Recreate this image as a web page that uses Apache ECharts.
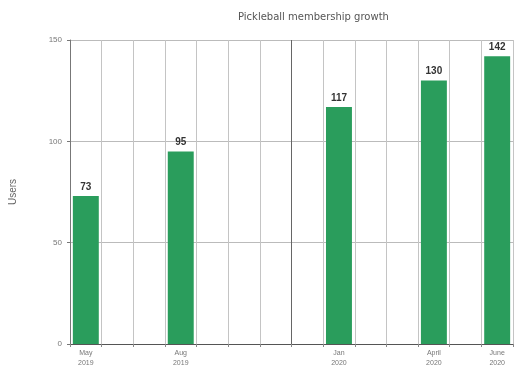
<!DOCTYPE html>
<html><head><meta charset="utf-8">
<script src="https://cdn.jsdelivr.net/npm/echarts@6/dist/echarts.min.js"></script>
<style>html,body{margin:0;padding:0;background:#fff}#c{width:516px;height:369px}</style>
</head><body><div id="c"></div>
<script>
const titleText = "Pickleball membership growth";
const yAxisName = "Users";
const months = ["May\n2019","Jun\n2019","Jul\n2019","Aug\n2019","Sep\n2019","Oct\n2019","Nov\n2019","Dec\n2019","Jan\n2020","Feb\n2020","Mar\n2020","April\n2020","May\n2020","June\n2020"];
const labeledMonths = ["May\n2019","Aug\n2019","Jan\n2020","April\n2020","June\n2020"];
const members = [73,null,null,95,null,null,null,null,117,null,null,130,null,142];
const yTicks = {min:0,max:150,interval:50};

const splitColors = months.map((m,i)=> i===7 ? '#666' : '#c4c4c4');

const chart = echarts.init(document.getElementById('c'));
chart.setOption({
  animation:false,
  title:{text:titleText,left:233,top:7,textStyle:{fontSize:10,fontWeight:'normal',color:'#555',fontFamily:'DejaVu Sans'}},
  grid:{left:70,right:3,top:40,bottom:25},
  xAxis:{type:'category',data:months,
    axisLine:{lineStyle:{color:'#555'}},
    axisTick:{show:true,interval:0,length:3,lineStyle:{color:'#888'}},
    splitLine:{show:true,interval:0,lineStyle:{color:splitColors}},
    axisLabel:{interval:0,fontSize:7,color:'#777',lineHeight:10,margin:4,
      formatter:v=>labeledMonths.includes(v)?v:''}},
  yAxis:{type:'value',min:yTicks.min,max:yTicks.max,interval:yTicks.interval,
    name:yAxisName,nameLocation:'middle',nameGap:52,nameRotate:90,
    nameTextStyle:{fontSize:10,color:'#666'},
    axisLine:{show:true,lineStyle:{color:'#777'}},
    axisTick:{show:true,length:3},
    axisLabel:{fontSize:8,color:'#777',margin:8},
    splitLine:{lineStyle:{color:'#bbb'}}},
  series:[{type:'bar',data:members,barWidth:'82%',
    itemStyle:{color:'#2a9d5c'},
    label:{show:true,position:'top',fontSize:10,fontWeight:'bold',color:'#333',distance:4}}]
});
</script></body></html>
